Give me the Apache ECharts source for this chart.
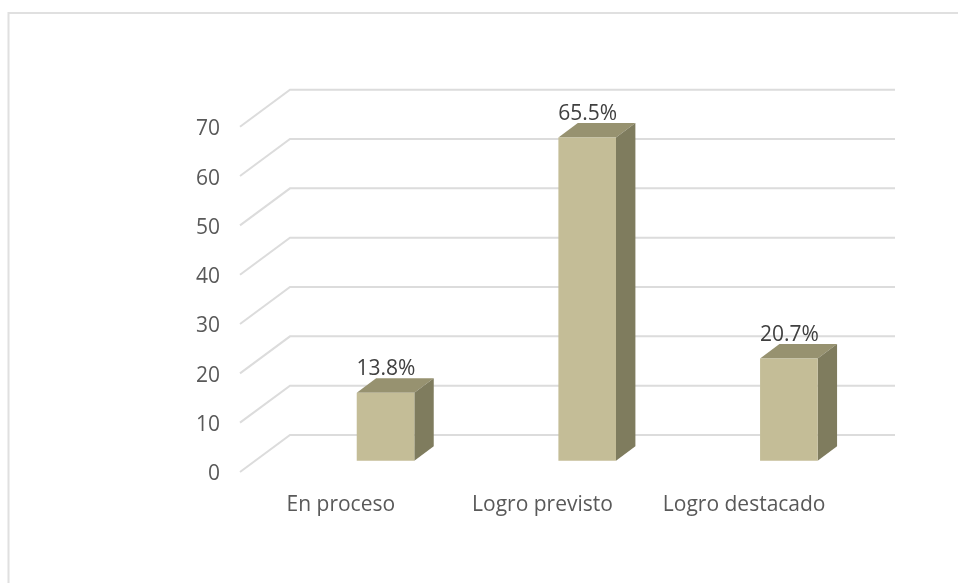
<!DOCTYPE html>
<html>
<head>
<meta charset="utf-8">
<style>html,body{margin:0;padding:0;background:#fff}#c{width:958px;height:583px}</style>
<script src="https://cdn.jsdelivr.net/npm/echarts@6/dist/echarts.min.js"></script>
</head>
<body>
<div id="c"></div>
<script>
const categories = ['En proceso', 'Logro previsto', 'Logro destacado'];
const values = [13.8, 65.5, 20.7];
const gridTicks = [0, 10, 20, 30, 40, 50, 60, 70];

const FONT = '"Open Sans"';
const GRID_COLOR = '#dcdcdc';
const WALL_DX = 50, WALL_DY = 39.5;
const BAR_W = 57.6, BAR_DX = 19.4, BAR_DY = 14.5, BAR_SHIFT = 44.7, BAR_LIFT = 13.8;

const chart = echarts.init(document.getElementById('c'), null, {renderer: 'canvas'});
chart.setOption({
  animation: false,
  backgroundColor: '#fff',
  grid: {left: 240, top: 129.2, width: 605, height: 345.3},
  xAxis: {
    type: 'category',
    data: categories,
    axisLine: {show: false},
    axisTick: {show: false},
    splitLine: {show: false},
    axisLabel: {color: '#595959', fontFamily: FONT, fontSize: 21, margin: 20.5, interval: 0}
  },
  yAxis: {
    type: 'value',
    min: 0,
    max: 70,
    interval: 10,
    axisLine: {show: false},
    axisTick: {show: false},
    splitLine: {show: false},
    axisLabel: {color: '#595959', fontFamily: FONT, fontSize: 21, margin: 20}
  },
  graphic: [{
    type: 'polyline',
    shape: {points: [[8.5, 583], [8.5, 13], [958, 13]]},
    style: {stroke: '#e0e0e0', lineWidth: 2, fill: null},
    silent: true
  }],
  series: [
    {
      type: 'custom',
      clip: false,
      z: 1,
      data: gridTicks.map(t => [0, t]),
      encode: {x: 0, y: 1},
      renderItem(params, api) {
        const y = api.coord([0, api.value(1)])[1];
        const cs = params.coordSys;
        return {
          type: 'polyline',
          shape: {points: [[cs.x, y - 2.5], [cs.x + WALL_DX, y - WALL_DY], [cs.x + cs.width + WALL_DX, y - WALL_DY]]},
          style: {stroke: GRID_COLOR, lineWidth: 2, fill: null}
        };
      }
    },
    {
      type: 'custom',
      clip: false,
      z: 2,
      data: values.map((v, i) => [i, v]),
      encode: {x: 0, y: 1},
      renderItem(params, api) {
        const i = api.value(0), v = api.value(1);
        const top = api.coord([i, v]);
        const base = api.coord([i, 0]);
        const l = top[0] + BAR_SHIFT - BAR_W / 2, r = l + BAR_W;
        const t = top[1] - BAR_LIFT, b = base[1] - BAR_LIFT;
        return {
          type: 'group',
          children: [
            {type: 'polygon', shape: {points: [[l, t], [l + BAR_DX, t - BAR_DY], [r + BAR_DX, t - BAR_DY], [r, t]]},
             style: {fill: '#979270'}},
            {type: 'polygon', shape: {points: [[r, t], [r + BAR_DX, t - BAR_DY], [r + BAR_DX, b - BAR_DY], [r, b]]},
             style: {fill: '#7f7c5e'}},
            {type: 'rect', shape: {x: l, y: t, width: BAR_W, height: b - t},
             style: {fill: '#c4bd97'}},
            {type: 'text', z2: 10, style: {
              x: (l + r) / 2 + 0.5, y: t - 24, text: v.toFixed(1) + '%',
              align: 'center', verticalAlign: 'middle',
              fill: '#404040', font: '21px ' + FONT
            }}
          ]
        };
      }
    }
  ]
});
</script>
</body>
</html>
